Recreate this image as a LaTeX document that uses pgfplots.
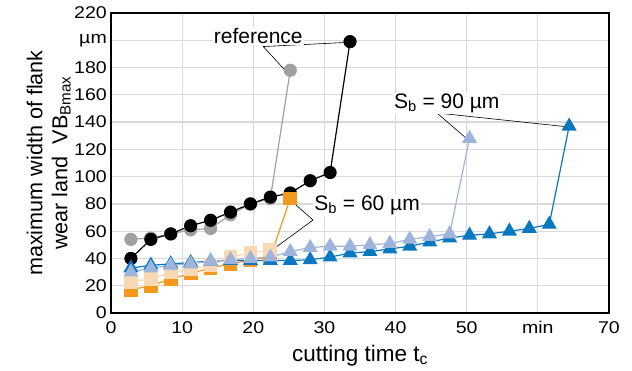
\documentclass[border=0pt]{standalone}
\usepackage{pgfplots}
\pgfplotsset{compat=1.18}
\usepackage{fontspec}
\setmainfont{Liberation Sans}
\newfontfamily\tickfont{Liberation Sans}[FakeStretch=1.15]
\definecolor{refgray}{HTML}{A0A0A0}
\definecolor{dorange}{HTML}{F39A1E}
\definecolor{peach}{HTML}{FAD8B4}
\definecolor{dblue}{HTML}{0A78C0}
\definecolor{lblue}{HTML}{9EB4DC}
\definecolor{gridc}{HTML}{D9D9D9}
\begin{document}
\begin{tikzpicture}
\begin{axis}[
  scale only axis,
  width=498pt, height=300pt,
  xmin=0, xmax=70, ymin=0, ymax=220,
  xtick={0,10,...,70},
  xticklabels={0,10,20,30,40,50,min,70},
  ytick={0,20,...,220},
  yticklabels={0,20,40,60,80,100,120,140,160,180,µm,220},
  major tick length=0pt,
  grid=major,
  major grid style={gridc, line width=1.2pt},
  axis line style={black, line width=1.6pt},
  /pgf/number format/assume math mode=true,
  tick label style={font=\tickfont\fontsize{17}{19}\selectfont, inner sep=2pt},
  xticklabel style={yshift=-6pt},
  yticklabel style={xshift=-2pt},
  xlabel={cutting time t\textsubscript{c}},
  xlabel style={at={(axis description cs:0.5,-0.1623)}, anchor=base, font=\fontsize{22.5}{25}\selectfont},
  ylabel={maximum width of flank\\wear land \ VB\textsubscript{Bmax}},
  ylabel style={align=center, at={(axis description cs:-0.0803,0.5)}, anchor=south, inner sep=0pt, font=\fontsize{21.6}{25}\selectfont},
  clip=false,
]
% reference (grey)
\addplot[refgray, line width=1.2pt, mark=*, mark size=6pt, mark options={fill=refgray, draw=refgray}] coordinates {
(2.8,54) (5.6,55) (8.4,58) (11.2,61) (14.0,62) (16.8,72) (19.6,80) (22.4,84) (25.2,178)};
% black
\addplot[black, line width=1.2pt, mark=*, mark size=6pt, mark options={fill=black}] coordinates {
(2.8,40) (5.6,54) (8.4,58) (11.2,64) (14.0,68) (16.8,74) (19.6,80) (22.4,85) (25.2,88) (28.0,97) (30.8,103) (33.6,199)};
% dark orange
\addplot[dorange, line width=1.2pt, mark=square*, mark size=6.3pt, mark options={fill=dorange, draw=dorange}] coordinates {
(2.8,17) (5.6,20) (8.4,25) (11.2,29) (14.0,33) (16.8,36) (19.6,39) (22.4,41) (25.2,84)};
% peach
\addplot[peach, line width=1.2pt, mark=square*, mark size=6.3pt, mark options={fill=peach, draw=peach}] coordinates {
(2.8,23) (5.6,25) (8.4,30) (11.2,32) (14.0,35) (16.8,41) (19.6,44) (22.4,46)};
% dark blue
\addplot[dblue, line width=1.2pt, mark=triangle*, mark size=7.5pt, mark options={fill=dblue, draw=dblue}] coordinates {
(2.8,33) (5.6,35) (8.4,36) (11.2,37) (14.0,38) (16.8,38.5) (19.6,38.5) (22.4,38.5) (25.2,38.5) (28.0,39) (30.8,41) (33.6,44) (36.4,45) (39.2,47) (42.0,49) (44.8,52) (47.6,55) (50.4,57) (53.2,58) (56.0,60) (58.8,62) (61.6,65) (64.4,137)};
% light blue
\addplot[lblue, line width=1.2pt, mark=triangle*, mark size=7.5pt, mark options={fill=lblue, draw=lblue}] coordinates {
(2.8,30) (5.6,33) (8.4,35) (11.2,36) (14.0,38) (16.8,39) (19.6,40) (22.4,41) (25.2,45) (28.0,48) (30.8,49) (33.6,49) (36.4,50) (39.2,51) (42.0,54) (44.8,56) (47.6,58) (50.4,128)};
% annotations
\draw[black, line width=0.6pt] (axis cs:21.4,195.4) -- (axis cs:25.0,175);
\draw[black, line width=0.6pt] (axis cs:21.4,195.4) -- (axis cs:33.4,198.5);
\node[fill=white, inner sep=1pt, font=\fontsize{21}{24}\selectfont] at (axis cs:20.7,203) {reference};
\draw[black, line width=0.6pt] (axis cs:28.4,68.2) -- (axis cs:25.4,82);
\draw[black, line width=0.6pt] (axis cs:28.4,68.2) -- (axis cs:22.6,46);
\node[fill=white, inner sep=1pt, font=\fontsize{21}{24}\selectfont] at (axis cs:36.0,79.2) {S\textsubscript{b} = 60 µm};
\draw[black, line width=0.6pt] (axis cs:45.8,146.7) -- (axis cs:50.2,127);
\draw[black, line width=0.6pt] (axis cs:45.8,146.7) -- (axis cs:64.2,136.5);
\node[fill=white, inner sep=1pt, font=\fontsize{21}{24}\selectfont] at (axis cs:47.2,153.8) {S\textsubscript{b} = 90 µm};
\end{axis}
\path (current axis.south west) ++(-111pt,-57pt) coordinate (bbA);
\path (current axis.north east) ++(23pt,13pt) coordinate (bbB);
\pgfresetboundingbox
\path[use as bounding box] (bbA) rectangle (bbB);
\end{tikzpicture}
\end{document}
